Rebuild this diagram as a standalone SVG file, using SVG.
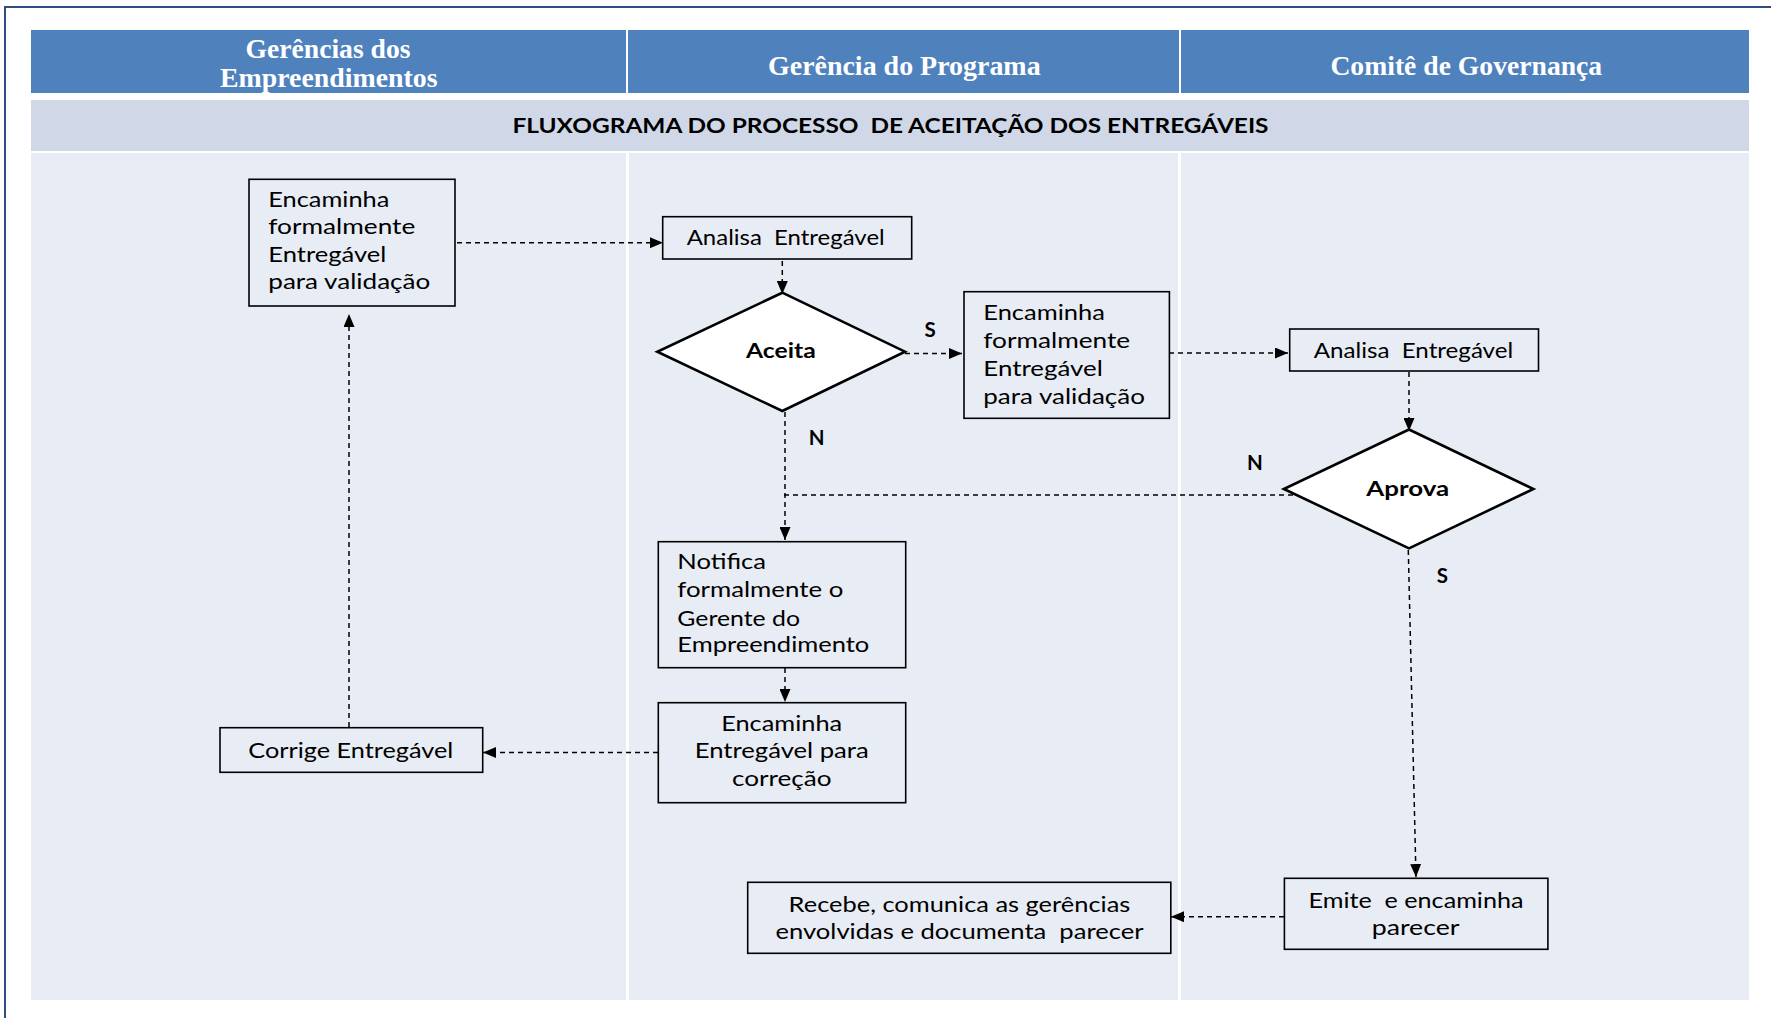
<svg xmlns="http://www.w3.org/2000/svg" width="1771" height="1018" viewBox="0 0 1771 1018">
<style>
.bg{fill:#E8ECF4}
.hd{fill:#4F81BD}
.band{fill:#D0D8E8}
.box{fill:#E8ECF4;stroke:#000;stroke-width:1.6}
.dia{fill:#fff;stroke:#000;stroke-width:2.6}
.t{font-family:Lato,"Open Sans","Liberation Sans",sans-serif;font-size:20.5px;fill:#000}
.b{font-weight:bold}
.h{font-family:"Liberation Serif","Times New Roman",serif;font-weight:bold;font-size:27px;fill:#fff}
.c{fill:none;stroke:#000;stroke-width:1.5;stroke-dasharray:5 4}
.frame{fill:none;stroke:#2F4D80;stroke-width:2}
</style>
<defs>
<marker id="arr" markerUnits="userSpaceOnUse" markerWidth="13" markerHeight="11" refX="13" refY="5.5" orient="auto">
<path d="M0,0 L13,5.5 L0,11 z" fill="#000"/>
</marker>
</defs>
<rect x="0" y="0" width="1771" height="1018" fill="#fff"/>
<path class="frame" d="M5,1018 L5,7 L1771,7"/>
<g id="lanes">
<rect class="hd" x="31" y="30" width="595" height="63"/>
<rect class="hd" x="628" y="30" width="551" height="63"/>
<rect class="hd" x="1181" y="30" width="568" height="63"/>
<rect class="band" x="31" y="100" width="1718" height="51"/>
<rect class="bg" x="31" y="153" width="595" height="847"/>
<rect class="bg" x="629" y="153" width="549" height="847"/>
<rect class="bg" x="1181" y="153" width="568" height="847"/>
<text class="h" x="245.5" y="58.3" textLength="165" lengthAdjust="spacingAndGlyphs">Gerências dos</text>
<text class="h" x="220" y="87" textLength="217.5" lengthAdjust="spacingAndGlyphs">Empreendimentos</text>
<text class="h" x="768" y="75" textLength="272.6" lengthAdjust="spacingAndGlyphs">Gerência do Programa</text>
<text class="h" x="1330.4" y="75" textLength="271.8" lengthAdjust="spacingAndGlyphs">Comitê de Governança</text>
<text class="t b" x="512.5" y="132.7" textLength="756" lengthAdjust="spacingAndGlyphs" xml:space="preserve">FLUXOGRAMA DO PROCESSO  DE ACEITAÇÃO DOS ENTREGÁVEIS</text>
</g>
<g id="connectors">
<line class="c" x1="448" y1="242.7" x2="663" y2="242.7" marker-end="url(#arr)"/>
<line class="c" x1="782.3" y1="261" x2="782.3" y2="294" marker-end="url(#arr)"/>
<line class="c" x1="905" y1="353.5" x2="962" y2="353.5" marker-end="url(#arr)"/>
<line class="c" x1="1169" y1="353" x2="1288" y2="353" marker-end="url(#arr)"/>
<line class="c" x1="1409" y1="372" x2="1409" y2="431" marker-end="url(#arr)"/>
<line class="c" x1="785" y1="412" x2="785" y2="540" marker-end="url(#arr)"/>
<line class="c" x1="1293" y1="495" x2="780" y2="495"/>
<line class="c" x1="785" y1="668" x2="785" y2="702" marker-end="url(#arr)"/>
<line class="c" x1="658" y1="752.5" x2="483" y2="752.5" marker-end="url(#arr)"/>
<line class="c" x1="349" y1="727" x2="349" y2="314" marker-end="url(#arr)"/>
<line class="c" x1="1408.3" y1="550" x2="1416" y2="877" marker-end="url(#arr)"/>
<line class="c" x1="1284" y1="916.7" x2="1171" y2="916.7" marker-end="url(#arr)"/>
<text class="t b" x="930" y="336.7" text-anchor="middle">S</text>
<text class="t b" x="816.6" y="445" text-anchor="middle">N</text>
<text class="t b" x="1254.8" y="470" text-anchor="middle">N</text>
<text class="t b" x="1442.3" y="582.7" text-anchor="middle">S</text>
</g>
<g id="n1">
<rect class="box" x="249" y="179.3" width="206" height="126.7"/>
<text class="t" x="268.3" y="207" textLength="121" lengthAdjust="spacingAndGlyphs">Encaminha</text>
<text class="t" x="268.3" y="234.3" textLength="147" lengthAdjust="spacingAndGlyphs">formalmente</text>
<text class="t" x="268.3" y="262.3" textLength="118" lengthAdjust="spacingAndGlyphs">Entregável</text>
<text class="t" x="268.3" y="289.3" textLength="162" lengthAdjust="spacingAndGlyphs">para validação</text>
</g>
<g id="n2">
<rect class="box" x="662.7" y="216.7" width="249" height="42.3"/>
<text class="t" x="686.7" y="245" textLength="198" lengthAdjust="spacingAndGlyphs" xml:space="preserve">Analisa  Entregável</text>
</g>
<g id="n3">
<polygon class="dia" points="782.3,292.7 905,351.7 782.3,411 657.3,351.7"/>
<text class="t b" x="746" y="358.3" textLength="69.7" lengthAdjust="spacingAndGlyphs">Aceita</text>
</g>
<g id="n4">
<rect class="box" x="964" y="291.7" width="205.4" height="126.6"/>
<text class="t" x="983.3" y="320" textLength="121.6" lengthAdjust="spacingAndGlyphs">Encaminha</text>
<text class="t" x="983.3" y="348.3" textLength="146.9" lengthAdjust="spacingAndGlyphs">formalmente</text>
<text class="t" x="983.3" y="376" textLength="119.5" lengthAdjust="spacingAndGlyphs">Entregável</text>
<text class="t" x="983.3" y="404" textLength="161.6" lengthAdjust="spacingAndGlyphs">para validação</text>
</g>
<g id="n5">
<rect class="box" x="1289.7" y="329" width="248.8" height="42"/>
<text class="t" x="1313.7" y="357.7" textLength="199.5" lengthAdjust="spacingAndGlyphs" xml:space="preserve">Analisa  Entregável</text>
</g>
<g id="n6">
<polygon class="dia" points="1409,429.5 1533.4,489 1409,548.3 1283.8,489"/>
<text class="t b" x="1366.3" y="496" textLength="82.9" lengthAdjust="spacingAndGlyphs">Aprova</text>
</g>
<g id="n7">
<rect class="box" x="658.3" y="541.7" width="247.4" height="126"/>
<text class="t" x="677.3" y="569" textLength="88.7" lengthAdjust="spacingAndGlyphs">Notifica</text>
<text class="t" x="677.3" y="597.3" textLength="166" lengthAdjust="spacingAndGlyphs">formalmente o</text>
<text class="t" x="677.3" y="625.7" textLength="122.7" lengthAdjust="spacingAndGlyphs">Gerente do</text>
<text class="t" x="677.3" y="652.3" textLength="192" lengthAdjust="spacingAndGlyphs">Empreendimento</text>
</g>
<g id="n8">
<rect class="box" x="658.3" y="702.7" width="247.4" height="100"/>
<text class="t" x="721.2" y="731" textLength="121" lengthAdjust="spacingAndGlyphs">Encaminha</text>
<text class="t" x="694.7" y="758.3" textLength="174" lengthAdjust="spacingAndGlyphs">Entregável para</text>
<text class="t" x="731.9" y="786" textLength="99.7" lengthAdjust="spacingAndGlyphs">correção</text>
</g>
<g id="n9">
<rect class="box" x="220" y="727.7" width="262.7" height="44.6"/>
<text class="t" x="248.3" y="757.8" textLength="205" lengthAdjust="spacingAndGlyphs">Corrige Entregável</text>
</g>
<g id="n10">
<rect class="box" x="747.7" y="882.3" width="423.1" height="71"/>
<text class="t" x="788.6" y="911.5" textLength="341.7" lengthAdjust="spacingAndGlyphs">Recebe, comunica as gerências</text>
<text class="t" x="775.5" y="939" textLength="368" lengthAdjust="spacingAndGlyphs" xml:space="preserve">envolvidas e documenta  parecer</text>
</g>
<g id="n11">
<rect class="box" x="1284.4" y="878.3" width="263.5" height="71"/>
<text class="t" x="1308.5" y="907.5" textLength="215" lengthAdjust="spacingAndGlyphs" xml:space="preserve">Emite  e encaminha</text>
<text class="t" x="1371.7" y="934.5" textLength="87.8" lengthAdjust="spacingAndGlyphs">parecer</text>
</g>
</svg>
